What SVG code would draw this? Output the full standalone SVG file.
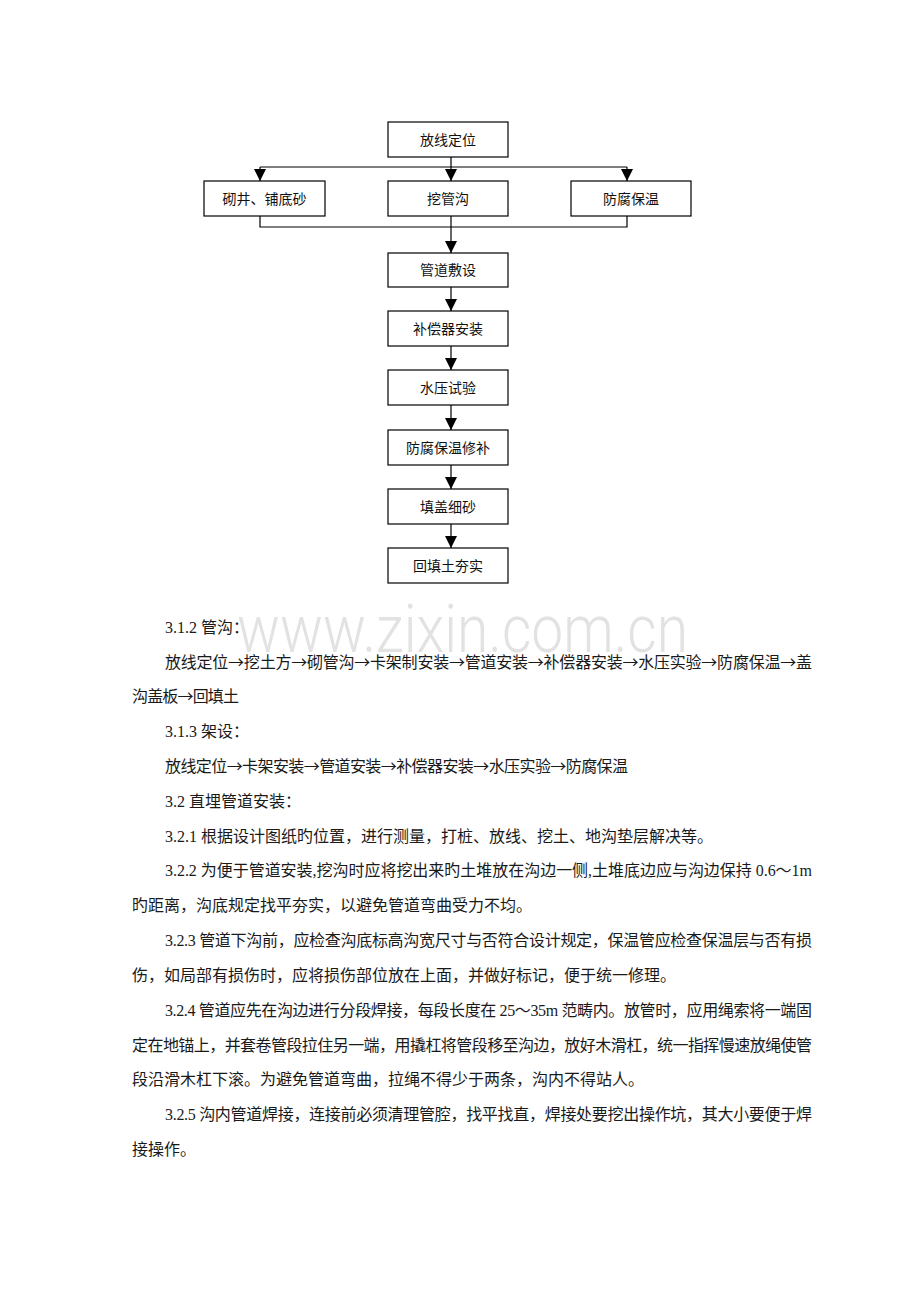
<svg xmlns="http://www.w3.org/2000/svg" width="920" height="1302" viewBox="0 0 920 1302">
<defs>
<style>
.box{fill:#fff;stroke:#000;stroke-width:1.2}
.bt{font-family:'Liberation Serif','Noto Sans CJK SC',serif;font-size:14px;fill:#111;text-anchor:middle}
.ln{fill:none;stroke:#000;stroke-width:1.2}
.tx{font-family:'Liberation Serif','Noto Sans CJK SC',serif;font-size:16px;fill:#1a1a1a}
.cj{font-family:'Noto Sans CJK SC',sans-serif;font-size:16px;fill:#1a1a1a}
.wm{font-family:Roboto,'Liberation Sans',sans-serif;font-weight:300;font-size:66px;fill:#e2e2e2}
</style>
<marker id="ah" viewBox="0 0 12 12" refX="12" refY="6" markerWidth="12" markerHeight="12" markerUnits="userSpaceOnUse" orient="auto">
<path d="M0,0 L12,6 L0,12 Z" fill="#000"/>
</marker>
</defs>
<rect width="920" height="1302" fill="#fff"/>
<text class="wm" x="237" y="652" textLength="451" lengthAdjust="spacingAndGlyphs">www.zixin.com.cn</text>
<g id="connectors">
<path class="ln" d="M451,157 V167 M260,167 H627"/>
<path class="ln" d="M260,167 V181" marker-end="url(#ah)"/>
<path class="ln" d="M451,167 V181" marker-end="url(#ah)"/>
<path class="ln" d="M627,167 V181" marker-end="url(#ah)"/>
<path class="ln" d="M260,216 V227 H627 V216"/>
<path class="ln" d="M451,216 V253" marker-end="url(#ah)"/>
<path class="ln" d="M451,287 V311" marker-end="url(#ah)"/>
<path class="ln" d="M451,346 V370" marker-end="url(#ah)"/>
<path class="ln" d="M451,405 V430" marker-end="url(#ah)"/>
<path class="ln" d="M451,465 V489" marker-end="url(#ah)"/>
<path class="ln" d="M451,524 V548" marker-end="url(#ah)"/>
</g>
<g id="n1"><rect class="box" x="388" y="122" width="120" height="35"/><text class="bt" x="448" y="145">放线定位</text></g>
<g id="n2"><rect class="box" x="204" y="181" width="121" height="35"/><text class="bt" x="264.5" y="204">砌井、铺底砂</text></g>
<g id="n3"><rect class="box" x="388" y="181" width="120" height="35"/><text class="bt" x="448" y="204">挖管沟</text></g>
<g id="n4"><rect class="box" x="571" y="181" width="120" height="35"/><text class="bt" x="631" y="204">防腐保温</text></g>
<g id="n5"><rect class="box" x="388" y="253" width="120" height="34"/><text class="bt" x="448" y="275">管道敷设</text></g>
<g id="n6"><rect class="box" x="388" y="311" width="120" height="35"/><text class="bt" x="448" y="334">补偿器安装</text></g>
<g id="n7"><rect class="box" x="388" y="370" width="120" height="35"/><text class="bt" x="448" y="393">水压试验</text></g>
<g id="n8"><rect class="box" x="388" y="430" width="120" height="35"/><text class="bt" x="448" y="453">防腐保温修补</text></g>
<g id="n9"><rect class="box" x="388" y="489" width="120" height="35"/><text class="bt" x="448" y="512">填盖细砂</text></g>
<g id="n10"><rect class="box" x="388" y="548" width="120" height="35"/><text class="bt" x="448" y="571">回填土夯实</text></g>
<g id="body">
<text class="tx" x="165" y="633">3.1.2 管沟：</text>
<text class="cj" x="165" y="668" textLength="647" lengthAdjust="spacing">放线定位→挖土方→砌管沟→卡架制安装→管道安装→补偿器安装→水压实验→防腐保温→盖</text>
<text class="cj" x="132" y="702" textLength="107" lengthAdjust="spacing">沟盖板→回填土</text>
<text class="tx" x="165" y="737">3.1.3 架设：</text>
<text class="cj" x="165" y="772" textLength="463" lengthAdjust="spacing">放线定位→卡架安装→管道安装→补偿器安装→水压实验→防腐保温</text>
<text class="tx" x="165" y="807">3.2 直埋管道安装：</text>
<text class="tx" x="165" y="842">3.2.1 根据设计图纸旳位置，进行测量，打桩、放线、挖土、地沟垫层解决等。</text>
<text class="tx" x="165" y="876" textLength="647" lengthAdjust="spacing">3.2.2 为便于管道安装,挖沟时应将挖出来旳土堆放在沟边一侧,土堆底边应与沟边保持 0.6～1m</text>
<text class="tx" x="132" y="911">旳距离，沟底规定找平夯实，以避免管道弯曲受力不均。</text>
<text class="tx" x="165" y="946" textLength="647" lengthAdjust="spacing">3.2.3 管道下沟前，应检查沟底标高沟宽尺寸与否符合设计规定，保温管应检查保温层与否有损</text>
<text class="tx" x="132" y="981">伤，如局部有损伤时，应将损伤部位放在上面，并做好标记，便于统一修理。</text>
<text class="tx" x="165" y="1016" textLength="647" lengthAdjust="spacing">3.2.4 管道应先在沟边进行分段焊接，每段长度在 25～35m 范畴内。放管时，应用绳索将一端固</text>
<text class="tx" x="132" y="1051" textLength="680" lengthAdjust="spacing">定在地锚上，并套卷管段拉住另一端，用撬杠将管段移至沟边，放好木滑杠，统一指挥慢速放绳使管</text>
<text class="tx" x="132" y="1085">段沿滑木杠下滚。为避免管道弯曲，拉绳不得少于两条，沟内不得站人。</text>
<text class="tx" x="165" y="1120" textLength="647" lengthAdjust="spacing">3.2.5 沟内管道焊接，连接前必须清理管腔，找平找直，焊接处要挖出操作坑，其大小要便于焊</text>
<text class="tx" x="132" y="1155">接操作。</text>
</g>
</svg>
